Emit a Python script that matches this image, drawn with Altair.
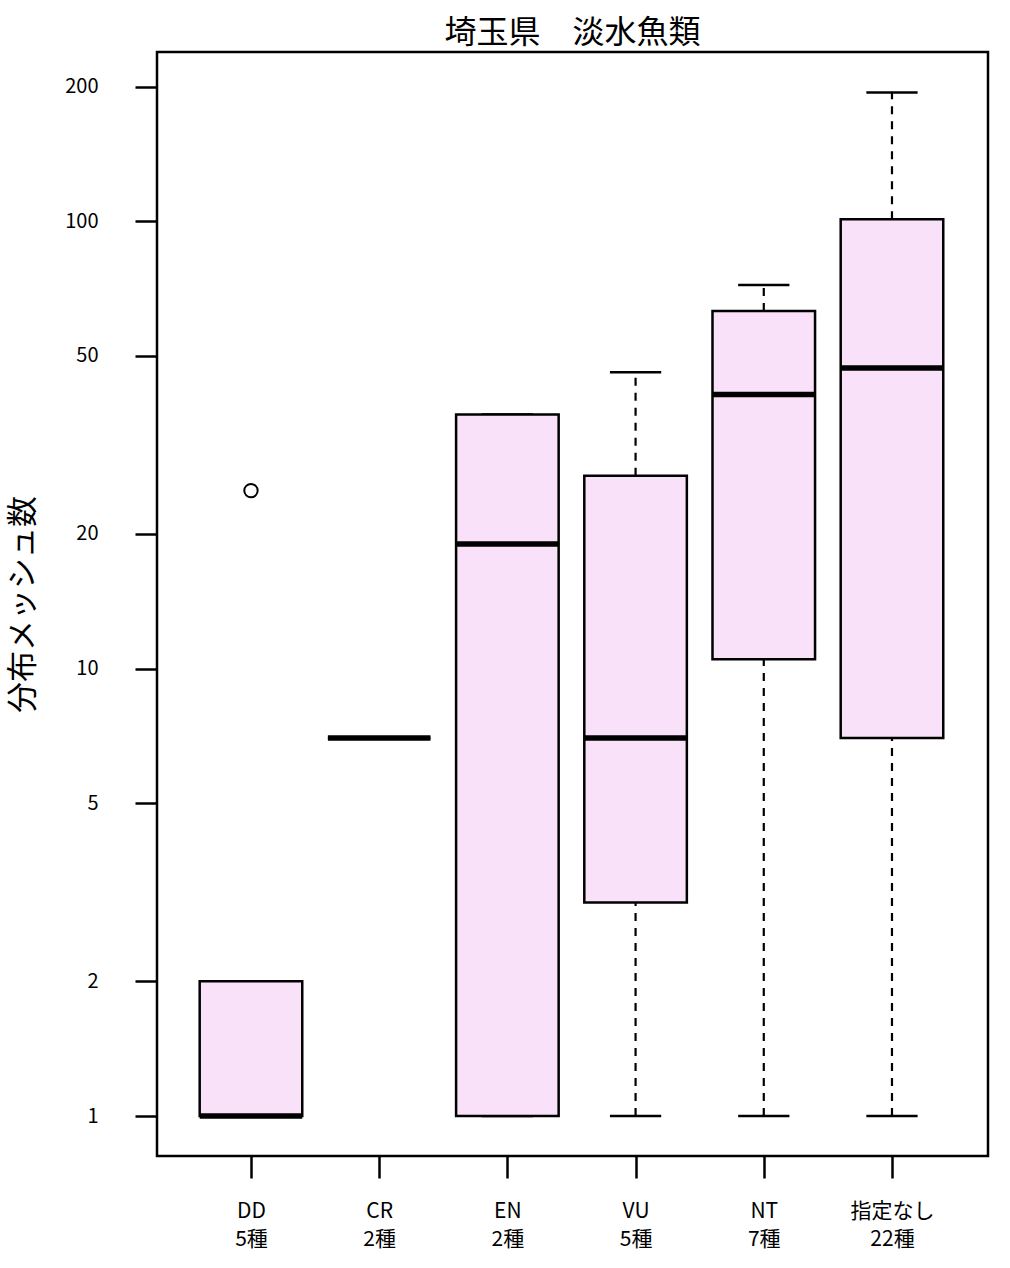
import json
import altair as alt
import pandas as pd

# ---- data ----
categories = ["DD", "CR", "EN", "VU", "NT", "指定なし"]
counts = ["5種", "2種", "2種", "5種", "7種", "22種"]
lower = [1, 7, 1, 1, 1, 1]
q1 = [1, 7, 1, 3, 10.5, 7]
median = [1, 7, 19, 7, 41, 47]
q3 = [2, 7, 37, 27, 63, 101]
upper = [2, 7, 37, 46, 72, 194]
outlier_cat = ["DD"]
outlier_val = [25]
y_ticks = [1, 2, 5, 10, 20, 50, 100, 200]

idx = list(range(1, len(categories) + 1))
df = pd.DataFrame({"cat": categories, "idx": idx, "lower": lower, "q1": q1,
                   "median": median, "q3": q3, "upper": upper})
out_df = pd.DataFrame({"idx": [categories.index(c) + 1 for c in outlier_cat],
                       "value": outlier_val})

FONT = "Noto Sans CJK JP"
label_arr = json.dumps([[c, n] for c, n in zip(categories, counts)], ensure_ascii=False)

xscale = alt.Scale(domain=[0.267, 6.749], nice=False, zero=False)
yscale = alt.Scale(type="log", domain=[0.814, 239], nice=False)

x_axis = alt.Axis(values=idx, labelExpr=f"{label_arr}[datum.value-1]", title=None,
                  grid=False, domain=False, tickSize=22, tickWidth=2.5, tickColor="black",
                  labelPadding=22, labelFontSize=21, labelFont=FONT, labelColor="black",
                  labelLineHeight=28, labelAngle=0)
y_axis = alt.Axis(values=y_ticks, title="分布メッシュ数", grid=False, domain=False,
                  tickSize=22, tickWidth=2.5, tickColor="black", labelPadding=37,
                  labelFontSize=20, labelFont=FONT, labelColor="black",
                  titleFontSize=31, titleFont=FONT, titleFontWeight="normal",
                  titleColor="black", titleX=-134, titleY=552, titleBaseline="middle",
                  titleAngle=270, titleAlign="center", format="d")

base = alt.Chart(df).transform_calculate(
    x0="datum.idx - 0.4", x1="datum.idx + 0.4",
    c0="datum.idx - 0.2", c1="datum.idx + 0.2")

whisk_lo = base.mark_rule(color="black", strokeWidth=2.2, strokeDash=[8, 7]).encode(
    x=alt.X("idx:Q", scale=xscale, axis=x_axis),
    y=alt.Y("lower:Q", scale=yscale, axis=y_axis),
    y2="q1:Q")
whisk_hi = base.mark_rule(color="black", strokeWidth=2.2, strokeDash=[8, 7]).encode(
    x=alt.X("idx:Q", scale=xscale), y=alt.Y("q3:Q", scale=yscale), y2="upper:Q")
cap_lo = base.mark_rule(color="black", strokeWidth=2.5).encode(
    x=alt.X("c0:Q", scale=xscale), x2="c1:Q", y=alt.Y("lower:Q", scale=yscale))
cap_hi = base.mark_rule(color="black", strokeWidth=2.5).encode(
    x=alt.X("c0:Q", scale=xscale), x2="c1:Q", y=alt.Y("upper:Q", scale=yscale))
box = base.mark_rect(fill="#F9E1F9", stroke="black", strokeWidth=2.5).encode(
    x=alt.X("x0:Q", scale=xscale), x2="x1:Q",
    y=alt.Y("q1:Q", scale=yscale), y2="q3:Q")
med = base.mark_rule(color="black", strokeWidth=5.5).encode(
    x=alt.X("x0:Q", scale=xscale), x2="x1:Q", y=alt.Y("median:Q", scale=yscale))
outl = alt.Chart(out_df).mark_point(shape="circle", filled=False, color="black",
                                    strokeWidth=2, size=180, opacity=1).encode(
    x=alt.X("idx:Q", scale=xscale), y=alt.Y("value:Q", scale=yscale))

chart = alt.layer(whisk_lo, whisk_hi, cap_lo, cap_hi, box, med, outl).properties(
    width=831, height=1104,
    title=alt.TitleParams("埼玉県　淡水魚類", font=FONT, fontSize=32, fontWeight="normal",
                          color="black", anchor="middle", offset=2),
    autosize=alt.AutoSizeParams(type="none"),
    padding={"left": 157, "top": 52, "right": 22, "bottom": 112},
    background="white",
).configure_view(stroke="black", strokeWidth=2.5)

chart.save("out.html", embed_options={"renderer": "svg", "actions": False})
